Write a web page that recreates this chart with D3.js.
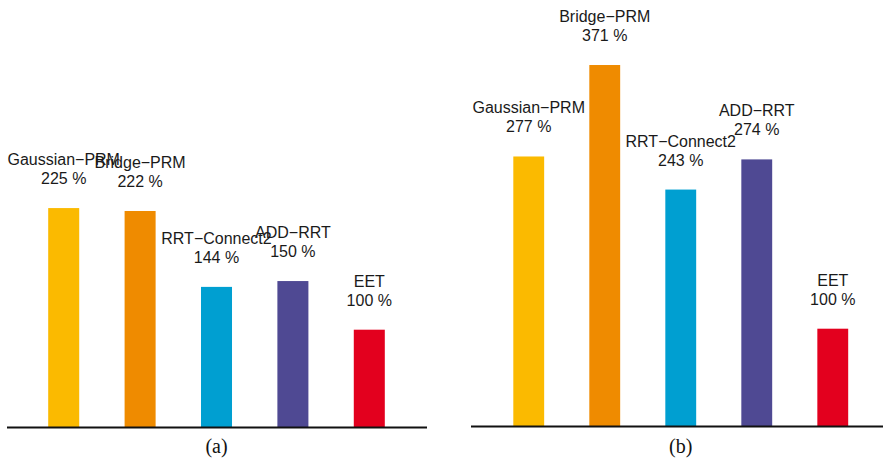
<!DOCTYPE html>
<html>
<head>
<meta charset="utf-8">
<script src="https://cdn.jsdelivr.net/npm/d3@7"></script>
<style>
  html, body { margin: 0; padding: 0; background: #fff; }
  svg { display: block; }
</style>
</head>
<body>
<svg id="chart" width="883" height="461"></svg>
<script>
// Planners compared, relative run time with EET as the 100 % reference
const planners = ["Gaussian\u2212PRM", "Bridge\u2212PRM", "RRT\u2212Connect2", "ADD\u2212RRT", "EET"];
const colors = ["#FBBA00", "#EF8B00", "#009FD1", "#4F4993", "#E3001E"];
const valuesA = [225, 222, 144, 150, 100];
const valuesB = [277, 371, 243, 274, 100];
const panelTitles = ["(a)", "(b)"];

const svg = d3.select("#chart");

const panels = [
  { values: valuesA, title: panelTitles[0], range: [10, 423], base: 427, axis: [7, 427] },
  { values: valuesB, title: panelTitles[1], range: [475.3, 886.2], base: 426, axis: [471, 883] }
];

const pxPerUnit = 0.973;

panels.forEach(p => {
  const g = svg.append("g");

  const x = d3.scaleBand()
    .domain(planners)
    .range(p.range)
    .paddingInner(0.594)
    .paddingOuter(0.5);

  const y = d3.scaleLinear()
    .domain([0, 400])
    .range([p.base, p.base - 400 * pxPerUnit]);

  const color = d3.scaleOrdinal().domain(planners).range(colors);

  const data = planners.map((name, i) => ({ name, value: p.values[i] }));

  // bars
  g.selectAll("rect.bar")
    .data(data)
    .join("rect")
    .attr("class", "bar")
    .attr("x", d => x(d.name))
    .attr("width", x.bandwidth())
    .attr("y", d => y(d.value))
    .attr("height", d => y(0) - y(d.value))
    .attr("fill", d => color(d.name));

  // two-line labels above each bar: name, then percentage
  const labels = g.selectAll("g.label")
    .data(data)
    .join("g")
    .attr("class", "label")
    .attr("transform", d => `translate(${x(d.name) + x.bandwidth() / 2},${y(d.value) - 24})`);

  labels.append("text")
    .attr("y", -19)
    .attr("text-anchor", "middle")
    .attr("font-family", "'Liberation Sans', Arial, sans-serif")
    .attr("font-size", 16)
    .attr("fill", "#1a1a1a")
    .text(d => d.name);

  labels.append("text")
    .attr("y", 0)
    .attr("text-anchor", "middle")
    .attr("font-family", "'Liberation Sans', Arial, sans-serif")
    .attr("font-size", 16)
    .attr("fill", "#1a1a1a")
    .text(d => `${d.value} %`);

  // baseline
  g.append("line")
    .attr("x1", p.axis[0])
    .attr("x2", p.axis[1])
    .attr("y1", y(0) + 0.5)
    .attr("y2", y(0) + 0.5)
    .attr("stroke", "#111")
    .attr("stroke-width", 2);

  // panel caption
  const mid = (x(planners[0]) + x(planners[planners.length - 1]) + x.bandwidth()) / 2;
  g.append("text")
    .attr("x", mid)
    .attr("y", 453)
    .attr("text-anchor", "middle")
    .attr("font-family", "'Liberation Serif', 'Times New Roman', serif")
    .attr("font-size", 20)
    .attr("fill", "#111")
    .text(p.title);
});
</script>
</body>
</html>
